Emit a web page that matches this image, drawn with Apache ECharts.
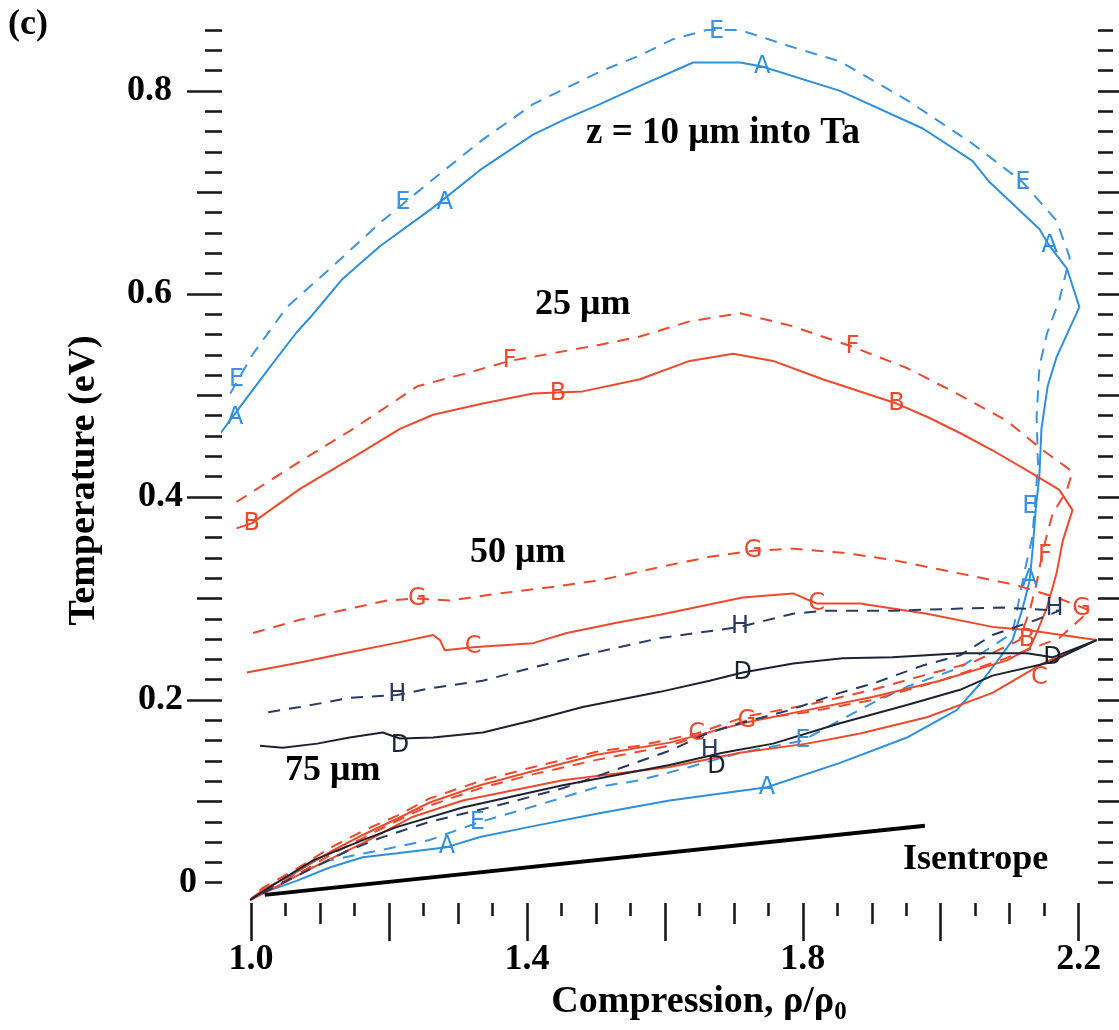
<!DOCTYPE html>
<html><head><meta charset="utf-8">
<script src="https://cdn.jsdelivr.net/npm/echarts/dist/echarts.min.js"></script>
<style>html,body{margin:0;padding:0;background:#fff}#c{width:1119px;height:1030px}</style>
</head><body><div id="c"></div>
<script>
// ---- axes / ticks ----
const X_MIN = 0.958, X_MAX = 2.228;
const Y_MIN = 0, Y_MAX = 0.86;
const xMajorTicks = [1.0, 1.2, 1.4, 1.6, 1.8, 2.0, 2.2];
const xMidTicks = [1.1, 1.3, 1.5, 1.7, 1.9, 2.1];
const xMinorTicks = [1.05, 1.15, 1.25, 1.35, 1.45, 1.55, 1.65, 1.75, 1.85, 1.95, 2.05, 2.15];
const xLabelValues = [1.0, 1.4, 1.8, 2.2];
const xLabelTexts = ['1.0', '1.4', '1.8', '2.2'];
const yMajorTicks = [0.2, 0.4, 0.6, 0.8];
const yMidTicks = [0.1, 0.3, 0.5, 0.7];
const yMinorTicks = [0.02, 0.04, 0.06, 0.08, 0.12, 0.14, 0.16, 0.18, 0.22, 0.24, 0.26, 0.28,
  0.32, 0.34, 0.36, 0.38, 0.42, 0.44, 0.46, 0.48, 0.52, 0.54, 0.56, 0.58, 0.62, 0.64, 0.66, 0.68,
  0.72, 0.74, 0.76, 0.78, 0.82, 0.84, 0.86];
const yLabelValues = [0.02, 0.2, 0.4, 0.6, 0.8];
const yLabelTexts = ['0', '0.2', '0.4', '0.6', '0.8'];

// ---- 10 um (blue) ----
const blueSolidA = [[0.955,0.462],[0.979,0.484],[1.023,0.524],[1.066,0.562],[1.090,0.580],[1.133,0.615],[1.187,0.647],[1.264,0.685],[1.336,0.724],[1.409,0.757],[1.458,0.773],[1.506,0.787],[1.564,0.805],[1.641,0.828],[1.709,0.828],[1.741,0.824],[1.854,0.800],[1.974,0.763],[2.046,0.731],[2.071,0.710],[2.143,0.664],[2.158,0.647],[2.183,0.625],[2.201,0.587],[2.168,0.538],[2.155,0.509],[2.146,0.467],[2.143,0.421],[2.138,0.390],[2.133,0.347],[2.129,0.318],[2.119,0.291],[2.104,0.259],[2.086,0.242],[2.057,0.216],[2.023,0.190],[1.951,0.163],[1.854,0.138],[1.748,0.114],[1.607,0.101],[1.501,0.088],[1.404,0.075],[1.332,0.065],[1.284,0.055],[1.212,0.049],[1.162,0.045],[1.114,0.035],[1.067,0.022],[1.017,0.010],[0.999,0.003]];
const blueDashedE = [[0.970,0.502],[1.003,0.541],[1.052,0.587],[1.110,0.622],[1.187,0.670],[1.264,0.713],[1.336,0.752],[1.409,0.787],[1.506,0.819],[1.564,0.835],[1.612,0.851],[1.661,0.860],[1.709,0.860],[1.781,0.844],[1.854,0.829],[1.951,0.791],[2.046,0.748],[2.119,0.710],[2.168,0.672],[2.187,0.636],[2.172,0.594],[2.154,0.561],[2.143,0.528],[2.139,0.479],[2.141,0.432],[2.133,0.361],[2.122,0.328],[2.104,0.266],[2.028,0.232],[1.951,0.213],[1.901,0.197],[1.854,0.180],[1.800,0.160],[1.709,0.148],[1.636,0.134],[1.564,0.121],[1.501,0.114],[1.404,0.094],[1.328,0.079],[1.259,0.062],[1.187,0.052],[1.114,0.042],[1.042,0.022],[1.003,0.006]];
// ---- 25 um (red) ----
const redSolidB = [[0.979,0.369],[1.001,0.374],[1.071,0.408],[1.148,0.439],[1.216,0.467],[1.264,0.481],[1.336,0.492],[1.409,0.502],[1.481,0.504],[1.564,0.516],[1.636,0.534],[1.699,0.541],[1.757,0.534],[1.829,0.516],[1.936,0.492],[1.980,0.479],[2.028,0.463],[2.075,0.446],[2.133,0.423],[2.172,0.407],[2.191,0.387],[2.177,0.357],[2.168,0.325],[2.154,0.291],[2.139,0.266],[2.129,0.251],[2.096,0.239],[1.999,0.219],[1.901,0.203],[1.806,0.190],[1.719,0.178],[1.607,0.158],[1.501,0.146],[1.404,0.129],[1.332,0.116],[1.259,0.099],[1.212,0.083],[1.162,0.067],[1.114,0.050],[1.067,0.031],[1.017,0.013],[0.999,0.003]];
const redDashedF = [[0.979,0.395],[1.071,0.435],[1.148,0.467],[1.241,0.509],[1.313,0.522],[1.375,0.534],[1.433,0.541],[1.506,0.550],[1.564,0.558],[1.636,0.573],[1.709,0.581],[1.781,0.569],[1.872,0.548],[1.951,0.527],[2.023,0.502],[2.096,0.475],[2.148,0.446],[2.191,0.425],[2.183,0.407],[2.162,0.383],[2.148,0.347],[2.139,0.315],[2.129,0.288],[2.114,0.259],[2.046,0.237],[1.974,0.224],[1.901,0.210],[1.806,0.195],[1.719,0.184],[1.646,0.167],[1.564,0.155],[1.501,0.149],[1.404,0.133],[1.332,0.120],[1.259,0.103],[1.212,0.086],[1.162,0.071],[1.114,0.054],[1.067,0.034],[1.017,0.015],[0.999,0.003]];
// ---- 50 um (red) ----
const redDashedG = [[1.003,0.266],[1.071,0.279],[1.143,0.290],[1.197,0.298],[1.241,0.300],[1.288,0.298],[1.361,0.305],[1.433,0.311],[1.506,0.318],[1.593,0.331],[1.665,0.341],[1.728,0.347],[1.786,0.349],[1.858,0.345],[1.930,0.338],[2.003,0.328],[2.075,0.318],[2.110,0.313],[2.172,0.300],[2.216,0.288],[2.172,0.261],[2.086,0.239],[1.999,0.219],[1.901,0.200],[1.806,0.188],[1.719,0.180],[1.607,0.155],[1.501,0.141],[1.404,0.126],[1.332,0.113],[1.259,0.096],[1.212,0.081],[1.162,0.064],[1.114,0.047],[1.067,0.028],[1.017,0.011],[0.999,0.003]];
const redSolidC = [[0.994,0.227],[1.071,0.237],[1.143,0.247],[1.216,0.257],[1.264,0.264],[1.274,0.259],[1.281,0.249],[1.322,0.252],[1.409,0.256],[1.458,0.266],[1.530,0.276],[1.593,0.284],[1.713,0.301],[1.786,0.305],[1.820,0.295],[1.883,0.295],[1.980,0.285],[2.075,0.272],[2.125,0.269],[2.226,0.259],[2.148,0.236],[2.075,0.207],[1.980,0.183],[1.883,0.167],[1.806,0.157],[1.709,0.148],[1.607,0.134],[1.452,0.121],[1.307,0.101],[1.235,0.085],[1.162,0.059],[1.090,0.035],[1.028,0.013],[0.999,0.003]];
// ---- 75 um (black) ----
const blackDashedH = [[1.025,0.188],[1.071,0.193],[1.143,0.202],[1.212,0.205],[1.264,0.212],[1.336,0.219],[1.409,0.232],[1.481,0.244],[1.593,0.261],[1.709,0.272],[1.786,0.285],[1.835,0.288],[1.930,0.288],[2.028,0.290],[2.090,0.291],[2.172,0.288],[2.139,0.279],[2.075,0.264],[2.028,0.244],[1.974,0.234],[1.901,0.216],[1.854,0.207],[1.781,0.190],[1.709,0.177],[1.661,0.167],[1.607,0.150],[1.452,0.113],[1.357,0.096],[1.259,0.080],[1.187,0.064],[1.139,0.051],[1.067,0.027],[1.006,0.006]];
const blackSolidD = [[1.013,0.155],[1.046,0.153],[1.096,0.157],[1.143,0.163],[1.191,0.168],[1.216,0.162],[1.264,0.163],[1.336,0.168],[1.409,0.180],[1.481,0.193],[1.593,0.208],[1.665,0.219],[1.713,0.227],[1.786,0.236],[1.858,0.241],[1.930,0.242],[2.028,0.246],[2.125,0.246],[2.162,0.242],[2.226,0.259],[2.158,0.237],[2.075,0.224],[2.028,0.210],[1.951,0.195],[1.854,0.177],[1.757,0.157],[1.684,0.148],[1.607,0.136],[1.452,0.116],[1.307,0.094],[1.212,0.075],[1.162,0.062],[1.090,0.042],[1.028,0.016],[0.999,0.003]];
// ---- isentrope ----
const isentrope = [[1.02,0.008],[1.977,0.076]];

// ---- curve letter marks ----
const marksA = [[0.977,0.478],[1.281,0.690],[1.741,0.824],[2.158,0.647],[2.129,0.318],[1.748,0.114],[1.284,0.055]];
const marksE = [[0.979,0.515],[1.220,0.690],[1.675,0.858],[2.119,0.710],[2.129,0.390],[1.800,0.160],[1.328,0.079]];
const marksB = [[1.001,0.374],[1.445,0.502],[1.936,0.492],[2.125,0.259]];
const marksF = [[1.375,0.534],[1.872,0.548],[2.151,0.342]];
const marksG = [[1.241,0.300],[1.728,0.347],[2.204,0.290],[1.719,0.180]];
const marksC = [[1.322,0.252],[1.820,0.295],[2.143,0.222],[1.646,0.167]];
const marksH = [[1.212,0.205],[1.709,0.272],[2.165,0.290],[1.665,0.150]];
const marksD = [[1.216,0.155],[1.713,0.227],[2.162,0.242],[1.675,0.134]];

const BLUE = '#2f8fdf', BLUE2 = '#3b93e2', RED = '#ec4a2c', BLACK = '#1d2230', NAVY = '#283a66';
const SERIF = '"Liberation Serif","Times New Roman",serif';
const TICK = { color: '#1a1a1a', width: 2.6 };

function xAx(ticks, len, withLabels) {
  return {
    type: 'value', min: X_MIN, max: X_MAX, position: 'bottom',
    axisLine: { show: false, onZero: false }, splitLine: { show: false },
    axisTick: { show: true, customValues: ticks, length: len, lineStyle: TICK },
    axisLabel: withLabels ? {
      show: true, customValues: xLabelValues, margin: 39,
      formatter: v => xLabelTexts[xLabelValues.indexOf(v)],
      fontFamily: SERIF, fontWeight: 'bold', fontSize: 36, color: '#000'
    } : { show: false },
    name: withLabels ? 'Compression, ρ/ρ{s|0}' : '',
    nameLocation: 'middle', nameGap: 77,
    nameTextStyle: { fontFamily: SERIF, fontWeight: 'bold', fontSize: 38, color: '#000', padding: [0, 0, 0, 78],
      rich: { s: { fontFamily: SERIF, fontWeight: 'bold', fontSize: 25, padding: [20, 0, 0, 0] } } }
  };
}
function yAx(pos, ticks, len, withLabels) {
  const a = {
    type: 'value', min: Y_MIN, max: Y_MAX, position: pos,
    axisLine: { show: false, onZero: false }, splitLine: { show: false },
    axisTick: { show: true, customValues: ticks, length: len, lineStyle: TICK },
    axisLabel: { show: false }
  };
  if (withLabels) {
    a.axisLabel = {
      show: true, customValues: yLabelValues, margin: 25,
      formatter: v => {
        const t = yLabelTexts[yLabelValues.indexOf(v)];
        if (v < 0.1) return '{z|' + t + '}';
        if (v < 0.5) return '{m|' + t + '}';
        return '{w|' + t + '}';
      },
      rich: {
        z: { fontFamily: SERIF, fontWeight: 'bold', fontSize: 36, color: '#000' },
        m: { fontFamily: SERIF, fontWeight: 'bold', fontSize: 36, color: '#000', padding: [0, 14, 0, 0] },
        w: { fontFamily: SERIF, fontWeight: 'bold', fontSize: 36, color: '#000', padding: [0, 25, 0, 0] }
      }
    };
    a.name = 'Temperature (eV)';
    a.nameLocation = 'middle';
    a.nameGap = 119;
    a.nameRotate = 90;
    a.nameTextStyle = { fontFamily: SERIF, fontWeight: 'bold', fontSize: 38, color: '#000', padding: [0, 28, 0, 0] };
  }
  return a;
}
function line(data, color, dashed, width) {
  return {
    type: 'line', data: data, showSymbol: false, symbol: 'none', smooth: false,
    lineStyle: { color: color, width: width || 2, type: dashed ? [12, 9] : 'solid' },
    silent: true, z: 3
  };
}
function marks(data, letter, color) {
  return {
    type: 'scatter', data: data, symbolSize: 2, itemStyle: { color: 'rgba(0,0,0,0)' }, silent: true, z: 5,
    label: { show: true, position: 'inside', formatter: () => letter, opacity: 1,
      fontFamily: '"DejaVu Sans",sans-serif', fontSize: 24, color: color }
  };
}
function note(text, x, y, size) {
  const s = size || 36;
  return { type: 'text', left: x, top: y - 20, style: { text: text, font: 'bold ' + s + 'px ' + SERIF, fill: '#000' } };
}

const chart = echarts.init(document.getElementById('c'));
chart.setOption({
  animation: false,
  backgroundColor: '#fff',
  grid: { left: 222, right: 21, top: 30, bottom: 127, containLabel: false, outerBoundsMode: 'none' },
  xAxis: [xAx(xMajorTicks, 38, true), xAx(xMidTicks, 21, false), xAx(xMinorTicks, 13, false)],
  yAxis: [
    yAx('left', yMajorTicks, 35, true), yAx('left', yMidTicks, 25, false), yAx('left', yMinorTicks, 17, false),
    yAx('right', yMajorTicks, 21, false), yAx('right', yMidTicks, 21, false), yAx('right', yMinorTicks, 15, false)
  ],
  series: [
    line(blueDashedE, BLUE2, true), line(blueSolidA, BLUE, false),
    line(redDashedF, RED, true), line(redSolidB, RED, false),
    line(redDashedG, RED, true), line(redSolidC, RED, false),
    line(blackDashedH, NAVY, true), line(blackSolidD, BLACK, false),
    line(isentrope, '#000', false, 4),
    marks(marksA, 'A', BLUE), marks(marksE, 'E', BLUE2),
    marks(marksB, 'B', RED), marks(marksF, 'F', RED), marks(marksG, 'G', RED), marks(marksC, 'C', RED),
    marks(marksH, 'H', NAVY), marks(marksD, 'D', BLACK)
  ],
  graphic: [
    note('(c)', 8, 27),
    note('z = 10 μm into Ta', 586, 135, 37),
    note('25 μm', 535, 307),
    note('50 μm', 470, 555),
    note('75 μm', 285, 773),
    note('Isentrope', 903, 862)
  ]
});
</script></body></html>
